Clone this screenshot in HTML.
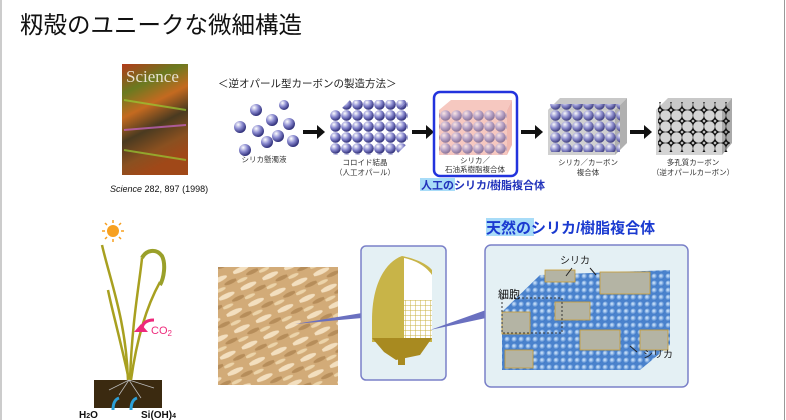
<!DOCTYPE html>
<html><head><meta charset="utf-8"><style>
html,body{margin:0;padding:0;background:#fff}
body{width:786px;height:420px;overflow:hidden;position:relative;font-family:"Liberation Sans","Noto Sans CJK JP",sans-serif}
</style></head><body>
<svg width="786" height="420" viewBox="0 0 786 420" xmlns="http://www.w3.org/2000/svg" style="position:absolute;left:0;top:0">
<defs>
<radialGradient id="sp" cx="0.35" cy="0.3" r="0.7"><stop offset="0" stop-color="#fff"/><stop offset="0.5" stop-color="#8a8ad0"/><stop offset="1" stop-color="#30307a"/></radialGradient>
<radialGradient id="bs" cx="0.4" cy="0.4" r="0.6"><stop offset="0" stop-color="#d8ecff"/><stop offset="1" stop-color="#3c78c8"/></radialGradient>
<pattern id="spp" width="11" height="11" patternUnits="userSpaceOnUse"><circle cx="5.5" cy="5.5" r="5.3" fill="url(#sp)"/></pattern>
<pattern id="bsp" width="7" height="7" patternUnits="userSpaceOnUse"><rect width="7" height="7" fill="#4a82cc"/><circle cx="3.5" cy="3.5" r="3" fill="url(#bs)"/></pattern>
<pattern id="ring" width="11" height="11" patternUnits="userSpaceOnUse"><circle cx="5.5" cy="5.5" r="6" fill="none" stroke="#111" stroke-width="1.4"/></pattern>
<pattern id="husk" width="24" height="18" patternUnits="userSpaceOnUse" patternTransform="rotate(-25)"><rect width="24" height="18" fill="#d2ab78"/><ellipse cx="8" cy="4" rx="9" ry="2.5" fill="#f3dfbf"/><ellipse cx="18" cy="11" rx="7" ry="2" fill="#b68d5a"/><ellipse cx="5" cy="14" rx="6" ry="1.8" fill="#ecd4aa"/></pattern>
<pattern id="mesh" width="5" height="5" patternUnits="userSpaceOnUse"><rect width="5" height="5" fill="#fff"/><path d="M0 0H5M0 0V5" stroke="#c8b040" stroke-width="1"/></pattern>
<linearGradient id="cov" x1="0" y1="0" x2="0.3" y2="1"><stop offset="0" stop-color="#b33a1a"/><stop offset="0.25" stop-color="#6a7a20"/><stop offset="0.45" stop-color="#c46a20"/><stop offset="0.65" stop-color="#4a3a20"/><stop offset="0.85" stop-color="#8a5020"/><stop offset="1" stop-color="#a04818"/></linearGradient>
</defs>
<line x1="1" y1="0" x2="1" y2="420" stroke="#999"/>
<line x1="784.5" y1="0" x2="784.5" y2="420" stroke="#999"/>
<text x="20" y="33" font-size="23.5" fill="#111">籾殻のユニークな微細構造</text>

<rect x="122" y="64" width="66" height="111" fill="url(#cov)"/>
<g stroke-width="2" opacity="0.7"><path d="M124 100 L186 110" stroke="#9c3"/><path d="M124 130 L186 125" stroke="#c6c"/><path d="M124 150 L186 160" stroke="#9c3"/></g>
<text x="126" y="82" font-family="Liberation Serif,serif" font-size="17" fill="#e8e0d0">Science</text>
<text x="110" y="192" font-size="9" fill="#111"><tspan font-style="italic">Science</tspan> 282, 897 (1998)</text>

<text x="218" y="87" font-size="10.5" fill="#222">＜逆オパール型カーボンの製造方法＞</text>

<g fill="url(#sp)">
<circle cx="256" cy="110" r="6"/><circle cx="272" cy="120" r="6"/><circle cx="289" cy="124" r="6"/><circle cx="240" cy="127" r="6"/><circle cx="258" cy="131" r="6"/><circle cx="278" cy="136" r="6"/><circle cx="267" cy="142" r="6"/><circle cx="293" cy="141" r="6"/><circle cx="245" cy="150" r="6"/><circle cx="284" cy="105" r="5"/>
</g>
<g fill="#111">
<rect x="303" y="130" width="16" height="4"/><polygon points="317,125 325,132 317,139"/>
<rect x="412" y="130" width="16" height="4"/><polygon points="426,125 434,132 426,139"/>
<rect x="521" y="130" width="16" height="4"/><polygon points="535,125 543,132 535,139"/>
<rect x="630" y="130" width="16" height="4"/><polygon points="644,125 652,132 644,139"/>
</g>
<polygon points="338,112 350,100 408,100 396,112" fill="url(#spp)"/>
<polygon points="396,112 408,100 408,143 396,155" fill="url(#spp)"/>
<rect x="330" y="110" width="68" height="45" fill="url(#spp)"/>
<text x="365" y="165" font-size="7.5" fill="#333" text-anchor="middle">コロイド結晶</text>
<text x="365" y="175" font-size="7.5" fill="#333" text-anchor="middle">（人工オパール）</text>
<text x="264" y="162" font-size="7.5" fill="#333" text-anchor="middle">シリカ懸濁液</text>
<rect x="434" y="92" width="83" height="84" rx="6" fill="#fff" stroke="#2233dd" stroke-width="2.5"/>
<rect x="439" y="110" width="68" height="45" fill="#f6c8c0"/>
<polygon points="439,110 451,100 512,100 507,110" fill="#f6c8c0"/>
<polygon points="507,110 512,100 512,145 507,155" fill="#f0b8b0"/>
<rect x="439" y="110" width="68" height="45" fill="url(#spp)" opacity="0.55"/>
<text x="475" y="163" font-size="7.5" fill="#333" text-anchor="middle">シリカ／</text>
<text x="475" y="172" font-size="7.5" fill="#333" text-anchor="middle">石油系樹脂複合体</text>
<rect x="420" y="178" width="35" height="13" fill="#a8dcf8"/>
<text x="421" y="189" font-size="11" font-weight="bold" fill="#2233bb">人工のシリカ/樹脂複合体</text>
<polygon points="548,110 560,98 627,98 615,110" fill="#c8c8c8"/>
<polygon points="615,110 627,98 627,143 615,155" fill="#b0b0b0"/>
<rect x="548" y="110" width="67" height="45" fill="#d0d0d0"/>
<rect x="550" y="104" width="70" height="48" fill="url(#spp)" opacity="0.9"/>
<text x="588" y="165" font-size="7.5" fill="#333" text-anchor="middle">シリカ／カーボン</text>
<text x="588" y="175" font-size="7.5" fill="#333" text-anchor="middle">複合体</text>
<polygon points="656,110 668,98 732,98 722,110" fill="#c8c8c8"/>
<polygon points="722,110 732,98 732,143 722,155" fill="#aaa"/>
<rect x="656" y="110" width="66" height="45" fill="#d4d4d4"/>
<rect x="658" y="102" width="72" height="50" fill="url(#ring)"/>
<text x="693" y="165" font-size="7.5" fill="#333" text-anchor="middle">多孔質カーボン</text>
<text x="693" y="175" font-size="7.5" fill="#333" text-anchor="middle">（逆オパールカーボン）</text>

<g transform="translate(113,231)">
<circle r="6" fill="#f7a020"/>
<g stroke="#f7a020" stroke-width="1.5"><path d="M0-11V-8M0 8V11M-11 0H-8M8 0H11M-8-8-6-6M6 6 8 8M-8 8-6 6M6-6 8-8"/></g>
</g>
<g fill="none" stroke="#a8a020" stroke-width="2.5">
<path d="M128 380 C126 320 110 280 102 245"/>
<path d="M130 380 C132 320 140 280 142 258"/>
<path d="M131 380 C138 330 150 300 160 282"/>
<path d="M129 380 C118 330 112 310 108 290"/>
<path d="M142 258 C146 250 156 248 162 256 C166 264 164 278 160 285" stroke="#9aa02a" stroke-width="4"/>
</g>
<path d="M142 330 q0 -10 12 -10" fill="none" stroke="#ee2a7b" stroke-width="3"/>
<polygon points="134,330 148,330 141,338" fill="#ee2a7b" transform="rotate(180 141 331)"/>
<text x="151" y="334" font-size="11" fill="#ee2a7b">CO<tspan font-size="8" dy="2">2</tspan></text>
<rect x="94" y="380" width="68" height="28" fill="#3b2a10"/>
<g stroke="#bbb" fill="none" stroke-width="0.8"><path d="M129 380 l-10 15 M129 380 l12 18 M129 380 l-20 10 M129 380 l25 8"/></g>
<path d="M113 410 q0 -10 6 -12" fill="none" stroke="#2ba0d8" stroke-width="3"/>
<path d="M131 410 q0 -10 6 -12" fill="none" stroke="#2ba0d8" stroke-width="3"/>
<text x="79" y="418" font-size="10" font-weight="bold" fill="#111">H<tspan font-size="7">2</tspan>O</text>
<text x="141" y="418" font-size="10" font-weight="bold" fill="#111">Si(OH)<tspan font-size="7">4</tspan></text>

<rect x="218" y="267" width="120" height="118" fill="url(#husk)"/>
<polygon points="295,324 362,313 362,318" fill="#6a70c0"/>
<rect x="361" y="246" width="85" height="134" rx="5" fill="#e4f0f4" stroke="#7a80c8" stroke-width="1.5"/>
<path d="M402 256 C385 262 372 285 372 320 L372 342 L432 342 L432 300 L432 270 C425 262 412 258 402 256Z" fill="#c8b448"/>
<path d="M404 258 L404 300 L432 300 L432 275 C425 265 414 260 404 258Z" fill="#fff"/>
<rect x="404" y="300" width="28" height="38" fill="url(#mesh)"/>
<path d="M372 338 L432 338 L420 355 L396 360 L384 352Z" fill="#a88a20"/>
<rect x="398" y="355" width="7" height="10" fill="#a88a20"/>
<polygon points="430,330 486,310 486,318" fill="#6a70c0"/>
<rect x="485" y="245" width="203" height="142" rx="6" fill="#e4f0f4" stroke="#7a80c8" stroke-width="1.5"/>
<polygon points="502,312 540,275 670,270 670,345 640,370 502,370" fill="url(#bsp)"/>
<g fill="#b4b4a4" stroke="#c89a30" stroke-width="0.8">
<rect x="502" y="312" width="28" height="22"/><rect x="555" y="302" width="35" height="18"/><rect x="600" y="272" width="50" height="22"/><rect x="580" y="330" width="40" height="20"/><rect x="505" y="350" width="28" height="18"/><rect x="640" y="330" width="28" height="20"/><rect x="545" y="270" width="30" height="12"/>
</g>
<rect x="502" y="298" width="60" height="35" fill="none" stroke="#333" stroke-dasharray="2,2"/>
<text x="498" y="298" font-size="11" fill="#111">細胞</text>
<text x="560" y="264" font-size="10" fill="#222">シリカ</text>
<text x="643" y="358" font-size="10" fill="#222">シリカ</text>
<path d="M637 352 l-7 -6" stroke="#222"/>
<path d="M572 268 l-6 8 M590 268 l6 7" stroke="#222"/>
<rect x="486" y="218" width="48" height="18" fill="#a8dcf8"/>
<text x="486" y="233" font-size="15" font-weight="bold" fill="#1a3ad0">天然のシリカ/樹脂複合体</text>
</svg>
</body></html>
